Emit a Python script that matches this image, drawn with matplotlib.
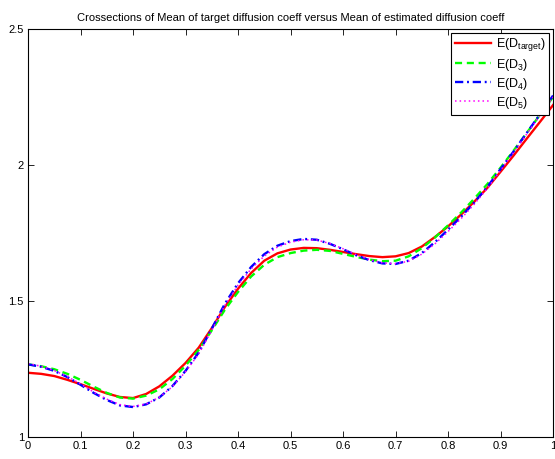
import matplotlib
matplotlib.use("Agg")
import matplotlib.pyplot as plt
import numpy as np

plt.rcParams['font.family'] = ['Liberation Sans', 'DejaVu Sans']
plt.rcParams['mathtext.fontset'] = 'custom'
plt.rcParams['mathtext.rm'] = 'Liberation Sans'
plt.rcParams['mathtext.it'] = 'Liberation Sans:italic'

x = [0.000, 0.025, 0.050, 0.075, 0.100, 0.125, 0.150, 0.175, 0.200, 0.225,
     0.250, 0.275, 0.300, 0.325, 0.350, 0.375, 0.400, 0.425, 0.450, 0.475,
     0.500, 0.525, 0.550, 0.575, 0.600, 0.625, 0.650, 0.675, 0.700, 0.725,
     0.750, 0.775, 0.800, 0.825, 0.850, 0.875, 0.900, 0.925, 0.950, 0.975, 1.000]

d_target = [1.236, 1.232, 1.224, 1.210, 1.194, 1.177, 1.160, 1.147, 1.143, 1.158,
            1.186, 1.225, 1.272, 1.328, 1.400, 1.478, 1.545, 1.603, 1.648, 1.675,
            1.689, 1.695, 1.694, 1.688, 1.680, 1.672, 1.665, 1.661, 1.664, 1.676,
            1.700, 1.735, 1.774, 1.818, 1.865, 1.916, 1.975, 2.035, 2.097, 2.158, 2.220]
d3 = [1.267, 1.260, 1.249, 1.232, 1.210, 1.185, 1.162, 1.145, 1.141, 1.152,
      1.175, 1.213, 1.262, 1.320, 1.392, 1.468, 1.533, 1.590, 1.633, 1.661,
      1.676, 1.685, 1.688, 1.684, 1.673, 1.662, 1.652, 1.646, 1.648, 1.664,
      1.694, 1.733, 1.778, 1.825, 1.876, 1.930, 1.990, 2.053, 2.118, 2.184, 2.250]
d4 = [1.267, 1.258, 1.243, 1.220, 1.192, 1.162, 1.136, 1.116, 1.110, 1.120,
      1.145, 1.187, 1.243, 1.310, 1.398, 1.490, 1.565, 1.625, 1.672, 1.703,
      1.720, 1.728, 1.725, 1.710, 1.690, 1.668, 1.650, 1.638, 1.636, 1.648,
      1.676, 1.716, 1.762, 1.810, 1.862, 1.920, 1.985, 2.050, 2.118, 2.186, 2.255]
d5 = [1.270, 1.260, 1.244, 1.222, 1.195, 1.165, 1.139, 1.119, 1.112, 1.121,
      1.146, 1.185, 1.240, 1.305, 1.392, 1.484, 1.558, 1.618, 1.665, 1.698,
      1.716, 1.725, 1.724, 1.711, 1.692, 1.670, 1.652, 1.640, 1.637, 1.646,
      1.672, 1.710, 1.755, 1.803, 1.856, 1.914, 1.980, 2.046, 2.114, 2.182, 2.250]

labels = [r'E(D$_{\rm target}$)', r'E(D$_{\rm 3}$)', r'E(D$_{\rm 4}$)', r'E(D$_{\rm 5}$)']
title = 'Crossections of Mean of target diffusion coeff versus Mean of estimated diffusion coeff'

fig = plt.figure(figsize=(5.55, 4.59), dpi=100)
ax = fig.add_axes([0.0505, 0.048, 0.946, 0.889])

ax.plot(x, d_target, color=(1, 0, 0), lw=1.7, ls='-', label=labels[0])
ax.plot(x, d3, color=(0, 1, 0), lw=1.7, ls=(0, (3, 2)), label=labels[1])
ax.plot(x, d4, color=(0, 0, 1), lw=1.7, ls=(0, (3.5, 1.6, 0.8, 1.6)), label=labels[2])
ax.plot(x, d5, color=(1, 0, 1), lw=1.1, ls=(0, (1, 2.0)), label=labels[3])

ax.set_xlim(0, 1)
ax.set_ylim(1, 2.5)
ax.set_xticks(np.arange(0, 1.01, 0.1))
ax.set_xticklabels(['0', '0.1', '0.2', '0.3', '0.4', '0.5', '0.6', '0.7', '0.8', '0.9', '1'])
ax.set_yticks([1, 1.5, 2, 2.5])
ax.set_yticklabels(['1', '1.5', '2', '2.5'])
ax.tick_params(direction='in', top=True, right=True, length=4, width=0.6,
               labelsize=8, pad=3)
for s in ax.spines.values():
    s.set_linewidth(0.8)

ax.set_title(title, fontsize=8, pad=6)

leg = ax.legend(loc='upper right', fontsize=9, fancybox=False, framealpha=1,
                edgecolor='black', borderaxespad=0.3, handlelength=2.9,
                labelspacing=0.25, borderpad=0.3, handletextpad=0.4)
leg.get_frame().set_linewidth(0.8)

fig.savefig('out.png', dpi=100)
